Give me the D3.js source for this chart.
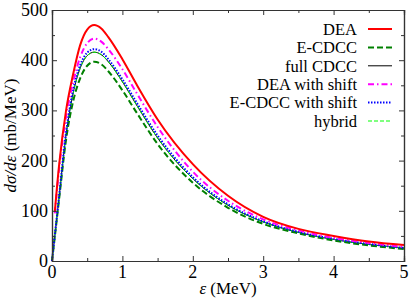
<!DOCTYPE html>
<html>
<head>
<meta charset="utf-8">
<script src="https://cdn.jsdelivr.net/npm/d3@7"></script>
</head>
<body style="margin:0">
<svg id="chart" width="409" height="298"></svg>
<script>
// energies (MeV) and cross sections (mb/MeV)
let eps = [0, 0.04, 0.1, 0.2, 0.3, 0.4, 0.5, 0.6, 0.7, 0.8, 1.0, 1.2, 1.5, 2.0, 2.5, 3.0, 3.5, 4.0, 4.5, 5.0];
let dea = [null, 98, 190, 300, 372, 430, 461, 470, 463, 446, 402, 352, 282, 193, 130, 88, 64, 50, 39, 32];
let ecdcc = [0, 48, 122, 242, 318, 364, 389, 397, 392, 378, 340, 296, 233, 156, 106, 74, 55, 41, 31, 24];
let fullCdcc = [0, 50, 126, 252, 334, 384, 409, 416, 411, 397, 357, 311, 245, 164, 111, 78, 57, 43, 33, 26];
let deaShift = [null, 95, 182, 287, 356, 406, 434, 443, 437, 422, 382, 335, 267, 178, 120, 83, 61, 46, 36, 28];
let ecdccShift = [0, 51, 128, 256, 340, 390, 415, 422, 417, 402, 362, 316, 250, 167, 113, 79, 58, 44, 34, 26];
let hybrid = fullCdcc.slice();

let seriesNames = ['DEA', 'E-CDCC', 'full CDCC', 'DEA with shift', 'E-CDCC with shift', 'hybrid'];
let xTicks = [0, 1, 2, 3, 4, 5];
let yTicks = [0, 100, 200, 300, 400, 500];

let styles = [
    {color: '#ff0000', width: 2, dash: null},
    {color: '#008000', width: 2, dash: '6,3'},
    {color: '#000000', width: 1, dash: null},
    {color: '#ff00ff', width: 2, dash: '6,3,1.5,3'},
    {color: '#0000ff', width: 2, dash: '1.5,1.5'},
    {color: '#00ff00', width: 1, dash: '4,2'}
];
let allValues = [dea, ecdcc, fullCdcc, deaShift, ecdccShift, hybrid];
// drawing order: thin black below the hybrid line
let order = [2, 5, 1, 4, 3, 0];
let fam = 'Liberation Serif';

let svg = d3.select('#chart');
let m = {left: 52, right: 5, top: 10, bottom: 37};
let W = 409, H = 298;
let x = d3.scaleLinear().domain([0, 5]).range([m.left, W - m.right]);
let y = d3.scaleLinear().domain([0, 500]).range([H - m.bottom, m.top]);

let plot = svg.append('g');
order.forEach(function(k) {
    let pts = eps.map(function(e, i) { return [e, allValues[k][i]]; }).filter(function(p) { return p[1] != null; });
    let line = d3.line()
        .x(function(d) { return x(d[0]); })
        .y(function(d) { return y(d[1]); })
        .curve(d3.curveMonotoneX);
    plot.append('path')
        .attr('d', line(pts))
        .attr('fill', 'none')
        .attr('stroke', styles[k].color)
        .attr('stroke-width', styles[k].width)
        .attr('stroke-dasharray', styles[k].dash);
});

// axes, ticks inward on all four sides, labels drawn separately
let frame = '#333';
let xMinor = d3.range(0.5, 5, 1);
let yMinor = d3.range(50, 500, 100);
function addAxis(axis, tx, ty) {
    svg.append('g').attr('transform', 'translate(' + tx + ',' + ty + ')').call(axis);
}
addAxis(d3.axisBottom(x).tickValues(xTicks).tickSize(-5).tickFormat(''), 0, y(0));
addAxis(d3.axisTop(x).tickValues(xTicks).tickSize(-5).tickFormat(''), 0, y(500));
addAxis(d3.axisLeft(y).tickValues(yTicks).tickSize(-5).tickFormat(''), x(0), 0);
addAxis(d3.axisRight(y).tickValues(yTicks).tickSize(-5).tickFormat(''), x(5), 0);
addAxis(d3.axisBottom(x).tickValues(xMinor).tickSize(-3).tickFormat(''), 0, y(0));
addAxis(d3.axisTop(x).tickValues(xMinor).tickSize(-3).tickFormat(''), 0, y(500));
addAxis(d3.axisLeft(y).tickValues(yMinor).tickSize(-3).tickFormat(''), x(0), 0);
addAxis(d3.axisRight(y).tickValues(yMinor).tickSize(-3).tickFormat(''), x(5), 0);
svg.selectAll('.domain').attr('stroke', frame).attr('stroke-width', 1.2);
svg.selectAll('.tick line').attr('stroke', frame);

xTicks.forEach(function(v) {
    svg.append('text').attr('x', x(v)).attr('y', y(0) + 17).attr('text-anchor', 'middle')
        .attr('font-family', fam).attr('font-size', 18).text(v);
});
yTicks.forEach(function(v) {
    svg.append('text').attr('x', x(0) - 4).attr('y', y(v)).attr('dy', '0.33em').attr('text-anchor', 'end')
        .attr('font-family', fam).attr('font-size', 18).text(v);
});

// axis titles
let xt = svg.append('text').attr('x', 228).attr('y', 294).attr('text-anchor', 'middle')
    .attr('font-family', fam).attr('font-size', 17);
xt.append('tspan').attr('font-style', 'italic').text('ε');
xt.append('tspan').text(' (MeV)');
let yt = svg.append('text').attr('transform', 'translate(16,' + y(250) + ') rotate(-90)')
    .attr('text-anchor', 'middle').attr('font-family', fam).attr('font-size', 17);
yt.append('tspan').attr('font-style', 'italic').text('dσ/dε');
yt.append('tspan').text(' (mb/MeV)');

// legend
seriesNames.forEach(function(name, i) {
    let ly = 29 + i * 18.4;
    svg.append('text').attr('x', 357).attr('y', ly).attr('dy', '0.35em')
        .attr('text-anchor', 'end').attr('font-family', fam).attr('font-size', 16.5).text(name);
    svg.append('line').attr('x1', 368).attr('x2', 392).attr('y1', ly).attr('y2', ly)
        .attr('stroke', styles[i].color).attr('stroke-width', styles[i].width)
        .attr('stroke-dasharray', styles[i].dash);
});
</script>
</body>
</html>
